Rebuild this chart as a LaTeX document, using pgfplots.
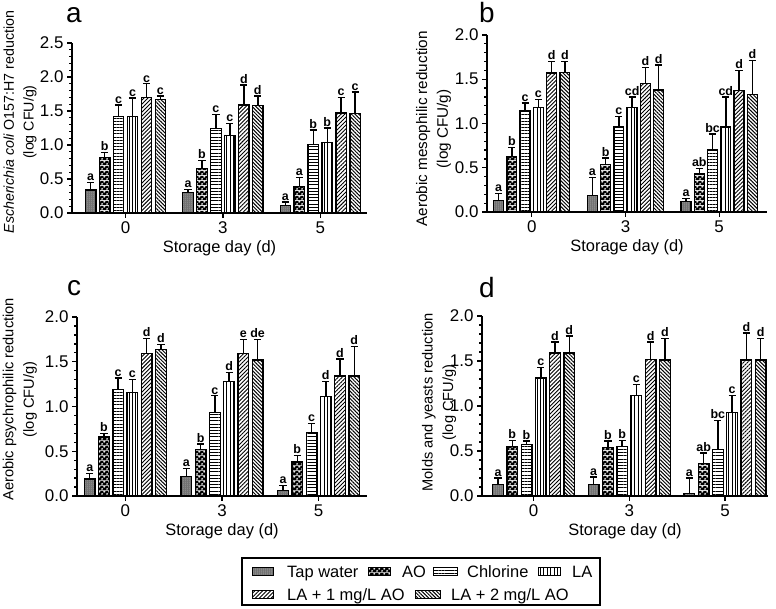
\documentclass[border=0pt]{standalone}
\usepackage{fontspec}
\setmainfont{Liberation Sans}
\usepackage{pgfplots}
\usepackage{pgfplotstable}
\pgfplotsset{compat=1.18}
\usetikzlibrary{patterns,patterns.meta}

\pgfdeclarepatterninherentlycolored{tapw}{\pgfpointorigin}{\pgfqpoint{2.4pt}{2.4pt}}{\pgfqpoint{2.4pt}{2.4pt}}{%
 \pgfsetfillcolor{black!60}%
 \pgfpathrectangle{\pgfpointorigin}{\pgfqpoint{2.4pt}{2.4pt}}\pgfusepath{fill}%
 \pgfsetfillcolor{white}%
 \pgfpathcircle{\pgfqpoint{1.2pt}{1.2pt}}{0.6pt}\pgfusepath{fill}}
\pgfdeclarepatterninherentlycolored{aow}{\pgfpointorigin}{\pgfqpoint{4.6pt}{4.6pt}}{\pgfqpoint{4.6pt}{4.6pt}}{%
 \pgfsetfillcolor{black}%
 \pgfpathrectangle{\pgfpointorigin}{\pgfqpoint{4.6pt}{4.6pt}}\pgfusepath{fill}%
 \pgfsetfillcolor{white}%
 \pgfpathcircle{\pgfqpoint{1.15pt}{1.15pt}}{1.05pt}\pgfusepath{fill}%
 \pgfpathcircle{\pgfqpoint{3.45pt}{3.45pt}}{1.05pt}\pgfusepath{fill}}

\tikzset{
 pTap/.style={pattern=tapw},
 pAO/.style={pattern=aow},
 pCl/.style={pattern={Lines[angle=0,distance=3.2pt,line width=1pt]}},
 pLA/.style={pattern={Lines[angle=90,distance=3.5pt,line width=1pt]}},
 pL1/.style={pattern={Lines[angle=45,distance=2.8pt,line width=0.9pt]}},
 pL2/.style={pattern={Lines[angle=-45,distance=2.6pt,line width=1pt]}},
}

\pgfplotstableread{
x y1 e1 l1 y2 e2 l2 y3 e3 l3 y4 e4 l4 y5 e5 l5 y6 e6 l6
0 0.34 0.11 a 0.82 0.07 b 1.42 0.17 c 1.42 0.27 c 1.70 0.20 c 1.67 0.05 c
1 0.30 0.05 a 0.65 0.12 b 1.24 0.21 c 1.14 0.18 c 1.59 0.29 d 1.58 0.14 d
2 0.11 0.05 a 0.39 0.13 a 1.01 0.21 b 1.04 0.21 b 1.47 0.23 c 1.46 0.32 c
}\tA
\pgfplotstableread{
x y1 e1 l1 y2 e2 l2 y3 e3 l3 y4 e4 l4 y5 e5 l5 y6 e6 l6
0 0.13 0.08 a 0.63 0.10 b 1.14 0.09 c 1.18 0.09 c 1.57 0.13 d 1.58 0.12 d
1 0.19 0.20 a 0.54 0.07 b 0.96 0.12 c 1.18 0.12 cd 1.45 0.18 d 1.38 0.28 d
2 0.12 0.03 a 0.43 0.06 ab 0.70 0.18 bc 0.96 0.34 cd 1.37 0.23 d 1.33 0.38 d
}\tB
\pgfplotstableread{
x y1 e1 l1 y2 e2 l2 y3 e3 l3 y4 e4 l4 y5 e5 l5 y6 e6 l6
0 0.19 0.06 a 0.66 0.04 b 1.19 0.13 c 1.16 0.14 c 1.59 0.17 d 1.64 0.05 d
1 0.22 0.09 a 0.52 0.06 b 0.93 0.19 c 1.28 0.10 d 1.59 0.16 e 1.52 0.23 de
2 0.06 0.06 a 0.38 0.07 b 0.71 0.10 c 1.11 0.17 d 1.34 0.19 d 1.34 0.33 d
}\tC
\pgfplotstableread{
x y1 e1 l1 y2 e2 l2 y3 e3 l3 y4 e4 l4 y5 e5 l5 y6 e6 l6
0 0.13 0.07 a 0.55 0.07 b 0.57 0.04 b 1.31 0.12 c 1.59 0.12 d 1.59 0.19 d
1 0.13 0.08 a 0.54 0.07 b 0.55 0.07 b 1.12 0.12 c 1.52 0.19 d 1.51 0.24 d
2 0.03 0.17 a 0.36 0.12 ab 0.52 0.32 bc 0.93 0.19 c 1.51 0.30 d 1.51 0.24 d
}\tD

\newcommand{\onebar}[3]{\addplot[#2, draw=black, line width=1.3pt,
  visualization depends on={\thisrow{e#3}\as\err}]
  table[x=x, y=y#3, y error=e#3, meta=l#3]{#1};}
\newcommand{\sixbars}[1]{%
 \onebar{#1}{pTap}{1}\onebar{#1}{pAO}{2}\onebar{#1}{pCl}{3}%
 \onebar{#1}{pLA}{4}\onebar{#1}{pL1}{5}\onebar{#1}{pL2}{6}}

\pgfplotsset{
 bstyle/.style={
  ybar, scale only axis, anchor=south west, clip=false,
  axis x line*=bottom, axis y line*=left,
  axis line style={line width=1.6pt},
  every tick/.style={black, line width=1.3pt},
  tick align=outside, major tick length=5pt, minor tick length=3pt,
  minor y tick num=4, xtick={0,1,2}, xticklabels={0,3,5},
  ymin=0, ytick distance=0.5,
  /pgf/number format/assume math mode=true,
  yticklabel style={/pgf/number format/.cd, fixed, fixed zerofill, precision=1},
  tick label style={font=\fontsize{17}{17}\selectfont},
  xlabel={Storage day (d)},
  xlabel style={font=\fontsize{16.5}{16.5}\selectfont},
  every axis y label/.style={rotate=90, anchor=center, align=center,
     font=\fontsize{14.3}{20}\selectfont},
  error bars/y dir=plus, error bars/y explicit,
  error bars/error mark options={rotate=90, mark size=3.6pt, line width=1.4pt, black},
  error bars/error bar style={line width=1.5pt, black},
  point meta=explicit symbolic,
  nodes near coords,
  every node near coord/.append style={font=\bfseries\fontsize{12.5}{12.5}\selectfont,
     inner sep=1pt, anchor=south, black, shift={(axis direction cs:0,\err)}},
 }
}

\begin{document}
\begin{tikzpicture}[x=1bp,y=1bp]
\path[use as bounding box] (0,0) rectangle (776,-609);

\begin{axis}[bstyle, at={(72bp,-213bp)}, width=295bp, height=170bp,
  xmin=-0.55, xmax=2.48, ymax=2.5, bar width=10.5pt, ybar=3.5pt,
  ylabel={\textit{Escherichia coli} O157:H7 reduction\\(log CFU/g)},
  ylabel style={at={(axis description cs:-0.176,0.535)}}]
\sixbars{\tA}
\end{axis}

\begin{axis}[bstyle, at={(487bp,-212bp)}, width=280bp, height=177bp,
  xmin=-0.477, xmax=2.51, ymax=2.0, bar width=10pt, ybar=3.3pt,
  ylabel={Aerobic mesophilic reduction\\(log CFU/g)},
  ylabel style={at={(axis description cs:-0.191,0.47)}, font=\fontsize{15.3}{21}\selectfont}]
\sixbars{\tB}
\end{axis}

\begin{axis}[bstyle, at={(77bp,-496bp)}, width=290bp, height=179bp,
  xmin=-0.50, xmax=2.50, ymax=2.0, bar width=10.7pt, ybar=3.6pt,
  ylabel={Aerobic psychrophilic reduction\\(log CFU/g)},
  ylabel style={at={(axis description cs:-0.197,0.54)}, font=\fontsize{14.7}{20.5}\selectfont}]
\sixbars{\tC}
\end{axis}

\begin{axis}[bstyle, at={(482bp,-496bp)}, width=286bp, height=180bp,
  xmin=-0.54, xmax=2.45, ymax=2.0, bar width=10.7pt, ybar=3.6pt,
  ylabel={Molds and yeasts reduction\\(log CFU/g)},
  ylabel style={at={(axis description cs:-0.150,0.52)}, font=\fontsize{14.7}{20.5}\selectfont}]
\sixbars{\tD}
\end{axis}

\node[anchor=base west, font=\fontsize{28}{28}\selectfont, inner sep=0pt] at (66,-23) {a};
\node[anchor=base west, font=\fontsize{28}{28}\selectfont, inner sep=0pt] at (479,-23) {b};
\node[anchor=base west, font=\fontsize{28}{28}\selectfont, inner sep=0pt] at (67,-295) {c};
\node[anchor=base west, font=\fontsize{28}{28}\selectfont, inner sep=0pt] at (479,-297) {d};

% legend
\draw[line width=1.4bp] (242,-558) rectangle (600,-605);
\begin{scope}[line width=1bp]
\draw[pTap] (252,-567) rectangle (273,-575);
\draw[pAO]  (368,-567) rectangle (390,-575);
\draw[pCl]  (433,-567) rectangle (457,-575);
\draw[pLA]  (538,-567) rectangle (560,-575);
\draw[pL1]  (252,-590) rectangle (273,-598);
\draw[pL2]  (415,-590) rectangle (440,-598);
\end{scope}
\begin{scope}[every node/.style={anchor=base west, inner sep=0pt, font=\fontsize{16.5}{16.5}\selectfont}]
\node at (287,-577) {Tap water};
\node at (402,-577) {AO};
\node at (467,-577) {Chlorine};
\node at (572,-577) {LA};
\node at (287,-600) {LA + 1 mg/L AO};
\node at (451,-600) {LA + 2 mg/L AO};
\end{scope}
\end{tikzpicture}
\end{document}
